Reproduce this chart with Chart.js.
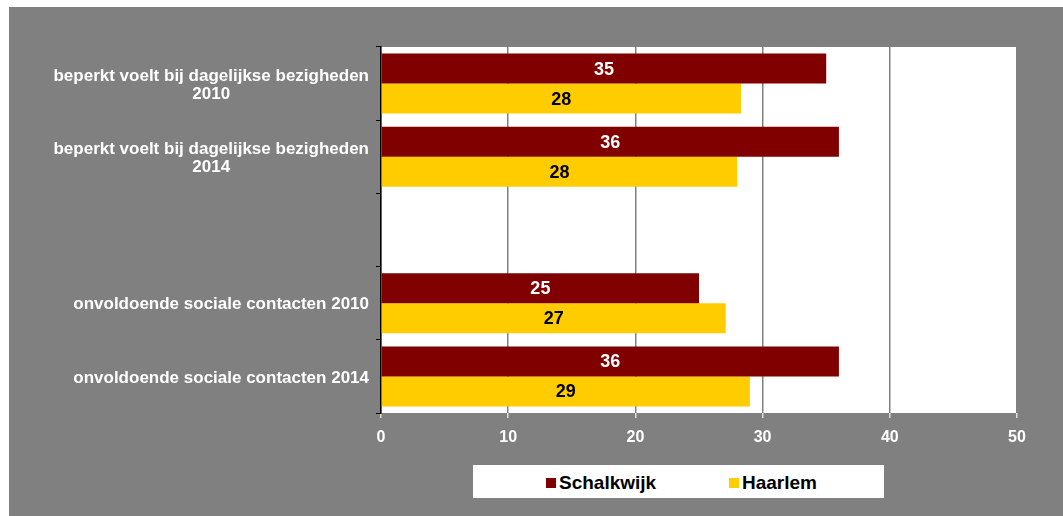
<!DOCTYPE html>
<html>
<head>
<meta charset="utf-8">
<script src="https://cdn.jsdelivr.net/npm/chart.js@4"></script>
<style>
  body { margin: 0; background: #fff; }
  #wrap { position: relative; width: 1063px; height: 516px; }
  #legend {
    position: absolute; left: 473px; top: 465px; width: 411px; height: 33px;
    background: #fff; font-family: "Liberation Sans", Arial, sans-serif;
    font-weight: bold; font-size: 19px; color: #000;
  }
  .item { position: absolute; top: 8px; line-height: 19px; }
  .sw { display: inline-block; width: 10px; height: 10px; margin-right: 3px; vertical-align: 1px; }
</style>
</head>
<body>
<div id="wrap">
  <canvas id="chart" width="1063" height="516"></canvas>
  <div id="legend">
    <span class="item" style="left:73px"><span class="sw" style="background:#800000"></span>Schalkwijk</span>
    <span class="item" style="left:256px"><span class="sw" style="background:#ffcc00"></span>Haarlem</span>
  </div>
</div>
<script>
// categorieën (lege derde rij zoals in het origineel)
const categorieen = [
  ['beperkt voelt bij dagelijkse bezigheden', '2010'],
  ['beperkt voelt bij dagelijkse bezigheden', '2014'],
  [''],
  ['onvoldoende sociale contacten 2010'],
  ['onvoldoende sociale contacten 2014']
];
const schalkwijk = [35.0, 36.0, null, 25.0, 36.0];
const haarlem = [28.3, 28.0, null, 27.1, 29.0];
const xTicks = [0, 10, 20, 30, 40, 50];

const FONT = '"Liberation Sans", Arial, sans-serif';

// achtergrond grijs + plotvlak wit
const achtergrond = {
  id: 'achtergrond',
  beforeDraw(chart) {
    const { ctx, chartArea } = chart;
    ctx.save();
    ctx.fillStyle = '#808080';
    ctx.fillRect(9, 7, 1054, 509);
    ctx.fillStyle = '#ffffff';
    ctx.fillRect(chartArea.left, chartArea.top, chartArea.right - chartArea.left, chartArea.bottom - chartArea.top);
    ctx.restore();
  }
};

// categorielabels: blok rechts uitgelijnd, regels gecentreerd
const categorieLabels = {
  id: 'categorieLabels',
  afterDraw(chart) {
    const { ctx } = chart;
    const y = chart.scales.y;
    ctx.save();
    ctx.font = 'bold 17px ' + FONT;
    ctx.fillStyle = '#ffffff';
    ctx.textAlign = 'center';
    ctx.textBaseline = 'middle';
    const rechts = 369;
    const lh = 18;
    categorieen.forEach((regels, i) => {
      const breed = Math.max(...regels.map(r => ctx.measureText(r).width));
      const cx = rechts - breed / 2;
      const cy = y.getPixelForValue(i) + 1.5;
      regels.forEach((r, j) => {
        ctx.fillText(r, cx, cy + (j - (regels.length - 1) / 2) * lh);
      });
    });
    ctx.restore();
  }
};

// waardelabels midden in de balken
const waardeLabels = {
  id: 'waardeLabels',
  afterDatasetsDraw(chart) {
    const { ctx } = chart;
    ctx.save();
    ctx.font = 'bold 18px ' + FONT;
    ctx.textAlign = 'center';
    ctx.textBaseline = 'middle';
    chart.data.datasets.forEach((ds, di) => {
      chart.getDatasetMeta(di).data.forEach((bar, i) => {
        const v = ds.data[i];
        if (v == null) return;
        ctx.fillStyle = di === 0 ? '#ffffff' : '#000000';
        ctx.fillText(Math.round(v), (bar.x + bar.base) / 2, bar.y + 1);
      });
    });
    ctx.restore();
  }
};

new Chart(document.getElementById('chart'), {
  type: 'bar',
  data: {
    labels: categorieen.map(c => c.join(' ')),
    datasets: [
      { label: 'Schalkwijk', data: schalkwijk, backgroundColor: '#800000', categoryPercentage: 0.82, barPercentage: 1.0 },
      { label: 'Haarlem', data: haarlem, backgroundColor: '#ffcc00', categoryPercentage: 0.82, barPercentage: 1.0 }
    ]
  },
  options: {
    indexAxis: 'y',
    responsive: false,
    animation: false,
    layout: { padding: { top: 47, right: 46, left: 0, bottom: 63 } },
    plugins: { legend: { display: false }, tooltip: { enabled: false } },
    scales: {
      x: {
        min: 0, max: 50,
        afterBuildTicks(scale) { scale.ticks = xTicks.map(v => ({ value: v })); },
        afterFit(scale) { scale.height = 40; },
        border: { display: false },
        grid: {
          color: '#808080',
          lineWidth: 1.5,
          tickLength: 5,
          tickColor: '#e0e0e0'
        },
        ticks: {
          color: '#ffffff',
          font: { family: FONT, size: 16, weight: 'bold' },
          padding: 10
        }
      },
      y: {
        afterFit(scale) { scale.width = 381; },
        border: { display: true, color: '#000000', width: 1.5 },
        grid: { drawOnChartArea: false, tickLength: 5, tickColor: '#000000', offset: true },
        ticks: { callback: () => '' }
      }
    }
  },
  plugins: [achtergrond, categorieLabels, waardeLabels]
});
</script>
</body>
</html>
